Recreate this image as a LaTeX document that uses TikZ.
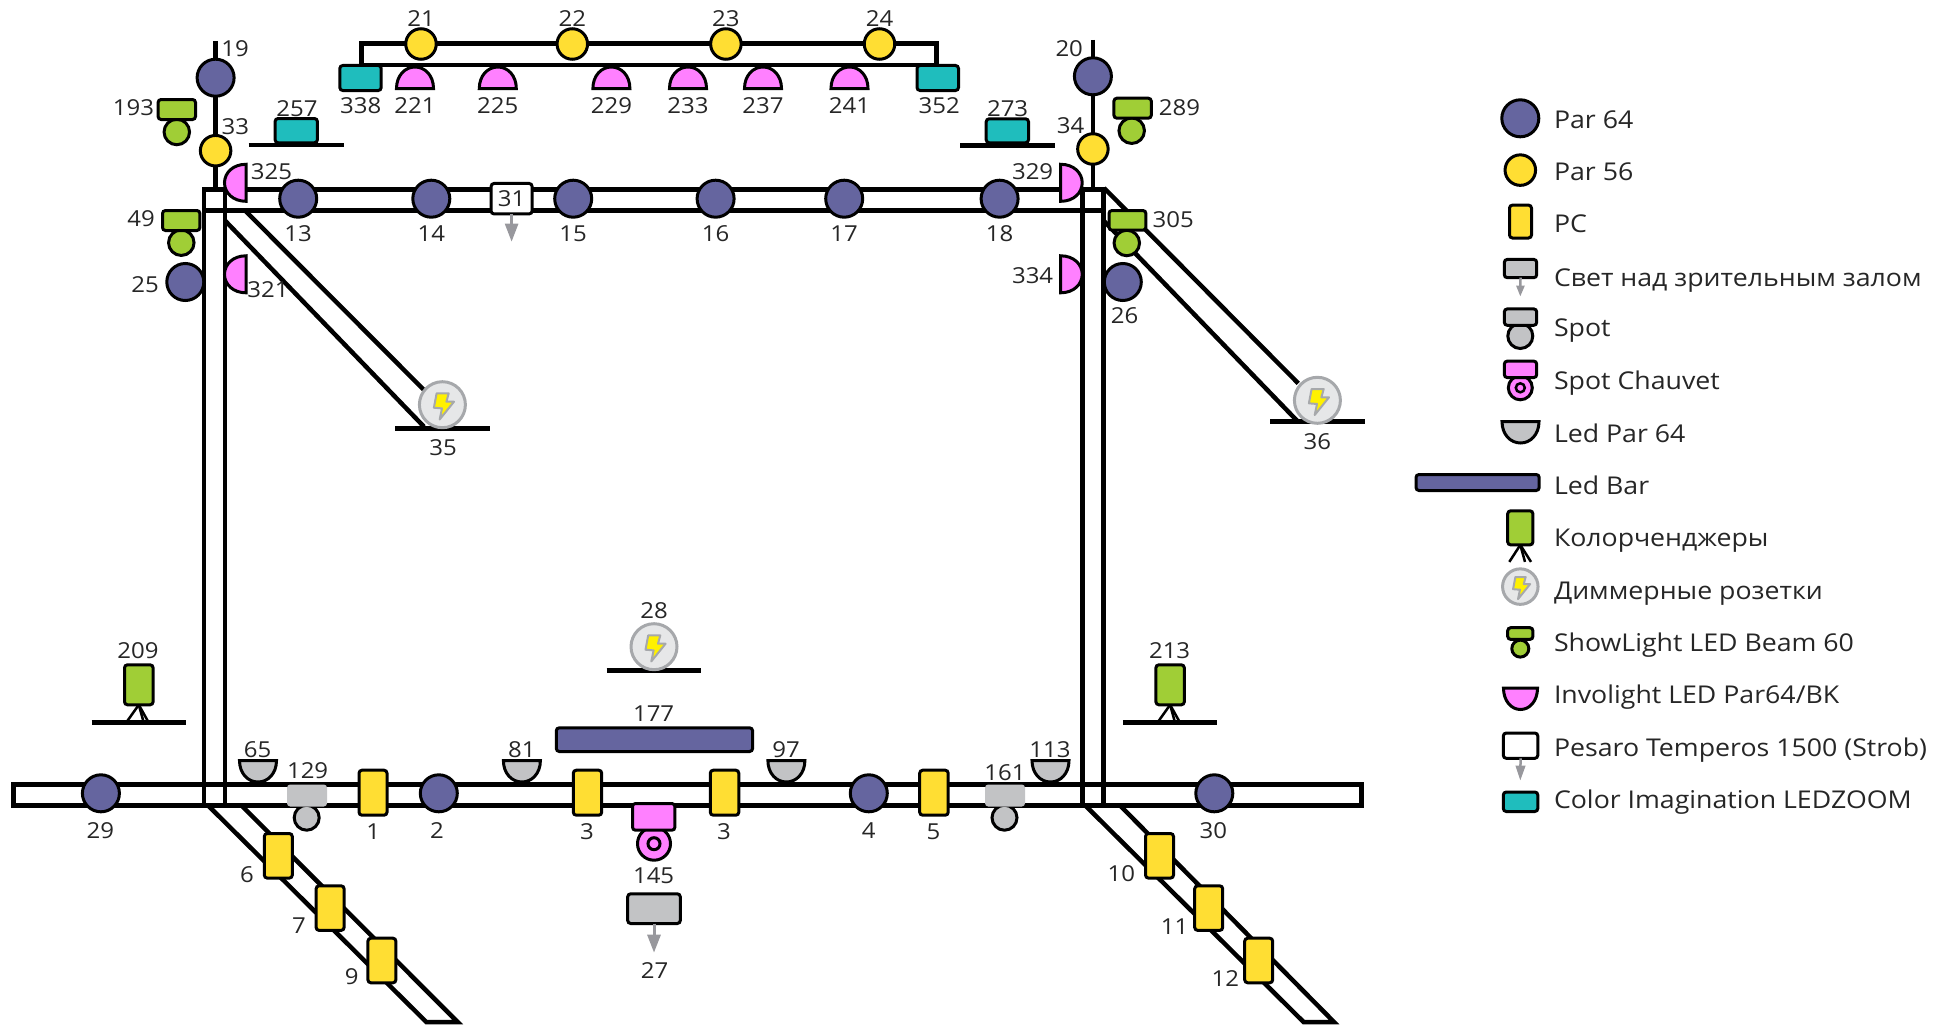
\documentclass[tikz,border=0pt]{standalone}
\usepackage{fontspec}
\setmainfont[FakeStretch=1.09]{Open Sans}
\usetikzlibrary{arrows.meta}
\definecolor{parblue}{HTML}{65659F}
\definecolor{paryel}{HTML}{FFDE33}
\definecolor{lgreen}{HTML}{A0CE36}
\definecolor{lpink}{HTML}{FF80FF}
\definecolor{lteal}{HTML}{1FBDBD}
\definecolor{lgrey}{HTML}{C2C3C5}
\definecolor{agrey}{HTML}{98989D}
\definecolor{dimfill}{HTML}{E6E7E8}
\definecolor{dimline}{HTML}{A6A8AB}
\definecolor{boltyel}{HTML}{FFF100}
\tikzset{
  truss/.style={line width=4.5pt,draw=black,line join=miter},
  rbox/.style={draw=black,line width=3pt,rectangle,rounded corners=3pt,inner sep=0pt,outer sep=0pt},
  disc/.style={draw=black,line width=3pt,circle,inner sep=0pt,outer sep=0pt},
  par64/.style={disc,fill=parblue,minimum size=37pt},
  par56/.style={disc,fill=paryel,minimum size=30.5pt},
  beamhead/.style={disc,fill=lgreen,minimum size=25.5pt},
  spothead/.style={disc,fill=lgrey,minimum size=25pt},
  dimmer/.style={circle,draw=dimline,line width=3pt,fill=dimfill,inner sep=0pt,outer sep=0pt,minimum size=46pt},
  lbl/.style={inner sep=0pt,outer sep=0pt,font=\fontsize{22}{22}\selectfont,text=black!85},
  legtext/.style={inner sep=0pt,outer sep=0pt,anchor=base west,font=\fontsize{24.5}{24.5}\selectfont,text=black!85},
  grayarrow/.style={draw=agrey,line width=3pt,-{Triangle[width=13pt,length=18pt]}},
  smallarrow/.style={draw=agrey,line width=2.5pt,-{Triangle[width=8pt,length=11pt]}},
  tripod/.style={draw=black,line width=2.5pt},
  dome/.style={draw=black,line width=3pt,line join=miter},
  bolt/.style={fill=boltyel,draw=dimline,line width=2pt,line join=round},
}
\newcommand{\rb}[6]{\node[rbox,#1,minimum width={#4-#2-1},minimum height={#5-#3-1}] (#6) at ({(#2+#4)/2},{(#3+#5)/2}) {};}
\newcommand{\lab}[4]{\node[lbl] (#1) at (#2,#3) {#4};}
\newcommand{\leg}[3]{\node[legtext] (#1) at (1554,#2) {#3};}
% \halfdome{fill}{x}{y}{angle}{xscale}: flat side through (x,y)
\newcommand{\halfdome}[5]{\draw[dome,fill=#1,shift={(#2,#3)},rotate=#4,xscale=#5]
  (-18.5,0) .. controls (-18.5,-13) and (-10,-21.5) .. (0,-21.5) .. controls (10,-21.5) and (18.5,-13) .. (18.5,0) -- cycle;}
\newcommand{\thebolt}[3]{\draw[bolt,shift={(#1,#2)},scale=#3]
  (-5.8,-11.3) -- (6.3,-11.3) -- (4,-3) -- (11.6,-3) -- (-2.7,14.7) -- (-0.4,3.7) -- (-8.5,3) -- cycle;}
\begin{document}
\begin{tikzpicture}[x=1pt,y=-1pt]
\useasboundingbox (0,0) rectangle (1941,1025);
% --- structure
\draw[truss] (361.6,65) -- (361.6,43.7) -- (936.6,43.7) -- (936.6,65);
\draw[truss] (361.6,65) -- (936.6,65);
\draw[truss] (215.6,41) -- (215.6,190);
\draw[truss] (1092.9,40) -- (1092.9,190);
\draw[truss] (204,210.3) -- (204,189.7) -- (1103.6,189.7) -- (1103.6,805);
\draw[truss] (204,210.3) -- (1103.6,210.3);
\draw[truss] (204,189.7) -- (204,805);
\draw[truss] (225,189.7) -- (225,805);
\draw[truss] (1082.6,189.7) -- (1082.6,805);
\draw[truss] (13.4,784.3) rectangle (1361.6,805.3);
\draw[truss] (225.4,221) -- (424,426.7);
\draw[truss] (245.5,211) -- (424,390);
\draw[truss] (1104,221) -- (1298,421.7);
\draw[truss] (1104,188) -- (1298.2,383.3);
\draw[truss] (207.6,805) -- (426.3,1022) -- (457.6,1022) -- (241,805);
\draw[truss] (1084.8,805) -- (1303.6,1022) -- (1334,1022) -- (1119.6,805);
% stands
\draw[truss] (248.7,145) -- (343.8,145);
\draw[truss] (960.3,145.3) -- (1054.9,145.3);
\draw[truss] (395,428.3) -- (490,428.3);
\draw[truss] (1270,421.7) -- (1365.2,421.7);
\draw[truss] (606.7,670.3) -- (701.3,670.3);
\draw[truss] (91.5,722.7) -- (185.7,722.7);
\draw[truss] (1122.8,722.7) -- (1217,722.7);
% --- top rail
\foreach \n/\x in {21/421,22/572.3,23/725.9,24/879.5} {\node[par56] (p\n) at (\x,44) {}; \lab{l\n}{\x}{19}{\n}}
\rb{fill=lteal}{339.3}{65}{381.7}{91}{n338} \lab{l338}{360.8}{106}{338}
\rb{fill=lteal}{916.5}{65}{959}{91}{n352} \lab{l352}{939.3}{106}{352}
\foreach \n/\x in {221/415,225/497.8,229/611.4,233/688,237/763,241/849.5} {\halfdome{lpink}{\x}{88.5}{0}{1}\lab{l\n}{\x}{106}{\n}}
% --- left tower
\node[par64] (p19) at (215.6,77.7) {}; \lab{l19}{235}{49}{19}
\node[par56] (p33) at (215.6,150.7) {}; \lab{l33}{235.3}{127}{33}
\node[beamhead] (c193) at (176.8,132) {}; \rb{fill=lgreen}{157.6}{99}{196}{120}{n193} \lab{l193}{133.5}{107.7}{193}
\rb{fill=lteal}{274.6}{118}{317.9}{143.3}{n257} \lab{l257}{296.9}{108.7}{257}
\halfdome{lpink}{246}{182.8}{90}{1} \lab{l325}{271.4}{172}{325}
\node[beamhead] (c49) at (181.3,242.7) {}; \rb{fill=lgreen}{162}{210}{200.4}{231}{n49} \lab{l49}{141}{219}{49}
\node[par64] (p25) at (185.3,282) {}; \lab{l25}{145}{285}{25}
\halfdome{lpink}{246}{274.3}{90}{1} \lab{l321}{267.9}{290}{321}
% --- right tower
\node[par64] (p20) at (1092.9,76.3) {}; \lab{l20}{1069.2}{49}{20}
\node[par56] (p34) at (1092.9,149) {}; \lab{l34}{1070.5}{126}{34}
\node[beamhead] (c289) at (1131.7,130.7) {}; \rb{fill=lgreen}{1113.4}{97.7}{1151.8}{118.7}{n289} \lab{l289}{1179.5}{107.7}{289}
\rb{fill=lteal}{985.7}{118.3}{1029}{143.3}{n273} \lab{l273}{1007.6}{108.7}{273}
\halfdome{lpink}{1060.7}{182.8}{-90}{1} \lab{l329}{1032.6}{172}{329}
\node[beamhead] (c305) at (1126.8,243) {}; \rb{fill=lgreen}{1108.5}{210}{1146.4}{230.7}{n305} \lab{l305}{1173.2}{220}{305}
\node[par64] (p26) at (1122.8,282) {}; \lab{l26}{1124.6}{316}{26}
\halfdome{lpink}{1060.7}{274.3}{-90}{1} \lab{l334}{1032.6}{276}{334}
% --- upper truss
\foreach \n/\x in {13/298.2,14/431.3,15/573.2,16/715.6,17/844.2,18/999.6} {\node[par64] (p\n) at (\x,198.7) {}; \lab{l\n}{\x}{234}{\n}}
\node[rbox,fill=white,minimum width=41pt,minimum height=30.5pt,font=\fontsize{22}{22}\selectfont,text=black!85] (n31) at (511.6,198.7) {31};
\coordinate (t31) at (511.6,241.7);
\draw[smallarrow,-{Triangle[width=13pt,length=18pt]}] (n31.south) -- (t31);
% --- dimmers
\node[dimmer] (d35) at (442.4,404.7) {}; \thebolt{442.4}{404.7}{1} \lab{l35}{443}{447.7}{35}
\node[dimmer] (d36) at (1317.4,400.3) {}; \thebolt{1317.4}{400.3}{1} \lab{l36}{1317.4}{441.7}{36}
\node[dimmer] (d28) at (654,646.7) {}; \thebolt{654}{646.7}{1} \lab{l28}{654}{611}{28}
% --- floor colour changers
\rb{fill=lgreen}{124}{664.3}{153.6}{705.3}{n209} \lab{l209}{138}{651}{209}
\rb{fill=lgreen}{1155.4}{664.3}{1184.8}{705.3}{n213} \lab{l213}{1169.6}{651}{213}
\foreach \nd/\x in {n209/138.8,n213/1170.1} {
  \draw[tripod] (\nd.south) -- (\x-11.5,721);
  \draw[tripod] (\nd.south) -- (\x+9,721);
  \draw[tripod] (\nd.south) -- (\x+4.5,721);
}
% --- lower truss
\foreach \n/\x/\lx in {29/100.9/100.4,2/438.8/437,4/868.8/868.8,30/1214.3/1213.4} {\node[par64] (p\n) at (\x,793.3) {}; \lab{l\n}{\lx}{830.7}{\n}}
\foreach \n/\x in {65/258,81/521.9,97/786.4,113/1050.5} {\halfdome{lgrey}{\x}{760.5}{180}{1}}
\lab{l65}{257.6}{750}{65} \lab{l81}{521.9}{750}{81} \lab{l97}{786}{750}{97} \lab{l113}{1050}{750}{113}
\node[spothead] (c129) at (306.7,817.7) {}; \node[rbox,draw=lgrey,fill=lgrey,rounded corners=2pt,minimum width=37pt,minimum height=19pt] (n129) at (307,795.5) {}; \lab{l129}{307.6}{771}{129}
\node[spothead] (c161) at (1004.5,817.7) {}; \node[rbox,draw=lgrey,fill=lgrey,rounded corners=2pt,minimum width=37pt,minimum height=19pt] (n161) at (1005,795.5) {}; \lab{l161}{1005}{773}{161}
\rb{fill=paryel}{358.5}{769.7}{387.5}{815.7}{pc1} \lab{l1}{373.2}{831.7}{1}
\rb{fill=paryel}{572.8}{769.7}{602.2}{815.7}{pc3a} \lab{l3a}{587}{831.7}{3}
\rb{fill=paryel}{709.8}{769.7}{739.3}{815.7}{pc3b} \lab{l3b}{724}{831.7}{3}
\rb{fill=paryel}{919.2}{769.7}{948.7}{815.7}{pc5} \lab{l5}{933.5}{831.7}{5}
\rb{fill=parblue}{555.8}{727.3}{753.1}{752}{bar177} \lab{l177}{653.6}{714}{177}
\node[disc,fill=lpink,minimum size=33pt] (c145) at (654,843.7) {};
\node[disc,fill=lpink,minimum size=12pt] (r145) at (654,843.7) {};
\rb{fill=lpink}{632}{803}{675.4}{830.7}{n145} \lab{l145}{653.6}{875.5}{145}
\rb{fill=lgrey}{627.2}{893.3}{680.8}{924}{n27} \lab{l27}{654.5}{971}{27}
\coordinate (t27) at (654,952.7);
\draw[grayarrow] (n27.south) -- (t27);
% --- diagonal PCs
\foreach \n/\xa/\ya/\lx/\ly in {6/263.8/833/246.9/874.7,7/315.6/885.3/299/925.3,9/367.4/937.7/351.8/976.7,10/1145/833/1121.4/873.3,11/1194.2/885.3/1174.6/926.7,12/1244.2/937.7/1225.4/979} {
  \rb{fill=paryel}{\xa}{\ya}{\xa+29}{\ya+45.6}{pc\n} \lab{l\n}{\lx}{\ly}{\n}
}
% --- legend
\node[par64] (k1) at (1520.3,118.3) {}; \leg{t1}{128.5}{Par 64}
\node[par56] (k2) at (1520.3,170.1) {}; \leg{t2}{180.4}{Par 56}
\rb{fill=paryel}{1509}{204.6}{1532}{238.5}{k3} \leg{t3}{232.7}{PC}
\rb{fill=lgrey}{1503.8}{258.9}{1537.2}{278.2}{k4} \coordinate (a4) at (1520.3,296.6); \draw[smallarrow] (k4.south) -- (a4); \leg{t4}{286}{Свет над зрительным залом}
\node[spothead] (k5c) at (1520.3,336) {}; \rb{fill=lgrey}{1503.8}{308.4}{1537.2}{325.8}{k5} \leg{t5}{336.9}{Spot}
\node[disc,fill=lpink,minimum size=24pt] (k6c) at (1520.3,387.8) {}; \node[disc,fill=lpink,minimum size=9pt,line width=2.5pt] (k6r) at (1520.3,387.8) {}; \rb{fill=lpink}{1503.8}{360.6}{1537.2}{378.1}{k6} \leg{t6}{389.2}{Spot Chauvet}
\halfdome{lgrey}{1520.5}{421.5}{180}{1} \leg{t7}{442.6}{Led Par 64}
\rb{fill=parblue}{1415.5}{474}{1539.7}{491}{k8} \leg{t8}{494.4}{Led Bar}
\rb{fill=lgreen}{1507.2}{510.3}{1533.4}{545.4}{k9} \coordinate (a9a) at (1509.3,561.9); \coordinate (a9b) at (1531,561.9); \coordinate (a9c) at (1525,561.9);
\draw[tripod] (k9.south) -- (a9a); \draw[tripod] (k9.south) -- (a9b); \draw[tripod] (k9.south) -- (a9c); \leg{t9}{546.8}{Колорченджеры}
\node[dimmer,minimum size=35.5pt] (k10) at (1520.3,586.6) {}; \thebolt{1520.3}{586.6}{0.85} \leg{t10}{599.6}{Диммерные розетки}
\node[disc,fill=lgreen,minimum size=17pt] (k11c) at (1520.3,648.6) {}; \rb{fill=lgreen}{1507.2}{627.2}{1533.4}{639.9}{k11} \leg{t11}{651}{ShowLight LED Beam 60}
\halfdome{lpink}{1520.5}{688}{180}{0.92} \leg{t12}{703.4}{Involight LED Par64/BK}
\rb{fill=white}{1502.8}{732.5}{1538.3}{758.8}{k13} \coordinate (a13) at (1520.3,780.6); \draw[smallarrow,-{Triangle[width=9.5pt,length=15pt]}] (k13.south) -- (a13); \leg{t13}{756.2}{Pesaro Temperos 1500 (Strob)}
\rb{fill=lteal}{1502.8}{791.5}{1538.3}{812}{k14} \leg{t14}{808.1}{Color Imagination LEDZOOM}
\end{tikzpicture}
\end{document}
